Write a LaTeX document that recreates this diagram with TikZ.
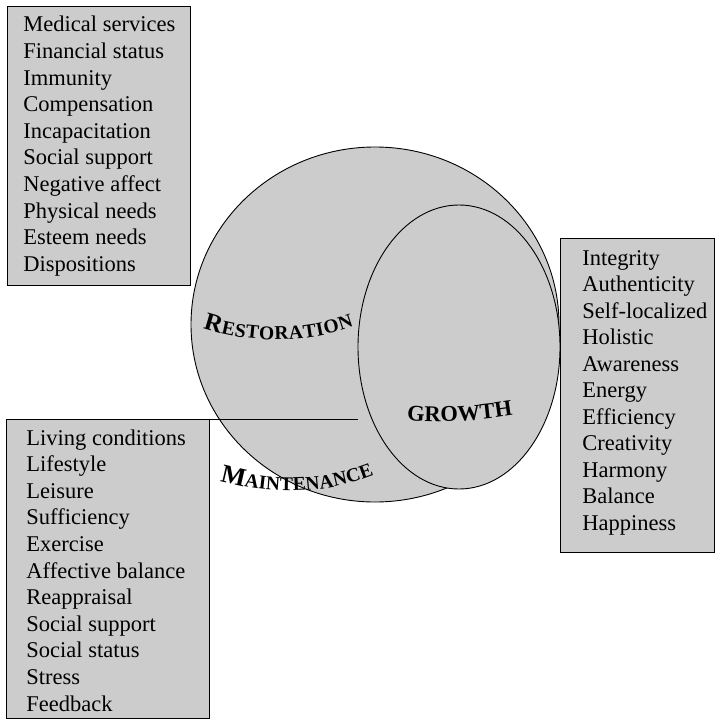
\documentclass[tikz,border=0pt]{standalone}
\usepackage{fontspec}
\setmainfont{Liberation Serif}
\usetikzlibrary{shapes.geometric,decorations.text}
\definecolor{panel}{RGB}{204,204,204}
\begin{document}
\begin{tikzpicture}[x=1pt,y=-1pt,line width=0.9pt,
  box/.style={draw,fill=panel,inner sep=0pt,anchor=north west},
  item/.style={anchor=base west,inner sep=0pt,font=\fontsize{22.5}{26}\selectfont},
  blob/.style={draw,fill=panel,ellipse,inner sep=0pt}]
\useasboundingbox (0,0) rectangle (715,719);
\node[blob,minimum width=368pt,minimum height=355pt] (outer) at (375,324.5) {};
\node[blob,minimum width=202pt,minimum height=284pt] (inner) at (459,347) {};
\node[box,minimum width=183pt,minimum height=279pt] (tl) at (7,6) {};
\node[box,minimum width=203pt,minimum height=299pt] (bl) at (6,419) {};
\node[box,minimum width=154pt,minimum height=314pt] (rb) at (560,238) {};
\draw (bl.north west) -- (inner.west |- bl.north);
\foreach \t [count=\i] in {Medical services,Financial status,Immunity,Compensation,Incapacitation,Social support,Negative affect,Physical needs,Esteem needs,Dispositions}
  \node[item] (tl\i) at (23,{32+26.6*(\i-1)}) {\t};
\foreach \t [count=\i] in {Living conditions,Lifestyle,Leisure,Sufficiency,Exercise,Affective balance,Reappraisal,Social support,Social status,Stress,Feedback}
  \node[item] (bl\i) at (26,{445+26.6*(\i-1)}) {\t};
\foreach \t [count=\i] in {Integrity,Authenticity,Self-localized,Holistic,Awareness,Energy,Efficiency,Creativity,Harmony,Balance,Happiness}
  \node[item] (rb\i) at (582,{265+26.5*(\i-1)}) {\t};
\path[decorate,decoration={text along path,text align={fit to path},
  text={|\bfseries\fontsize{25}{25}\selectfont|R|\bfseries\fontsize{19.5}{19.5}\selectfont|ESTORATION}}]
  (203,328) .. controls (250,344) and (306,344) .. (354,326);
\path[decorate,decoration={text along path,text align={fit to path},
  text={|\bfseries\fontsize{26}{26}\selectfont|M|\bfseries\fontsize{19.5}{19.5}\selectfont|AINTENANCE}}]
  (220,481) .. controls (271,495) and (323,495) .. (374,475);
\path[decorate,decoration={text along path,text align={fit to path},
  text={|\bfseries\fontsize{22.5}{22.5}\selectfont|GROWTH}}]
  (407,420) .. controls (440,423) and (475,421) .. (508,416);
\end{tikzpicture}
\end{document}
